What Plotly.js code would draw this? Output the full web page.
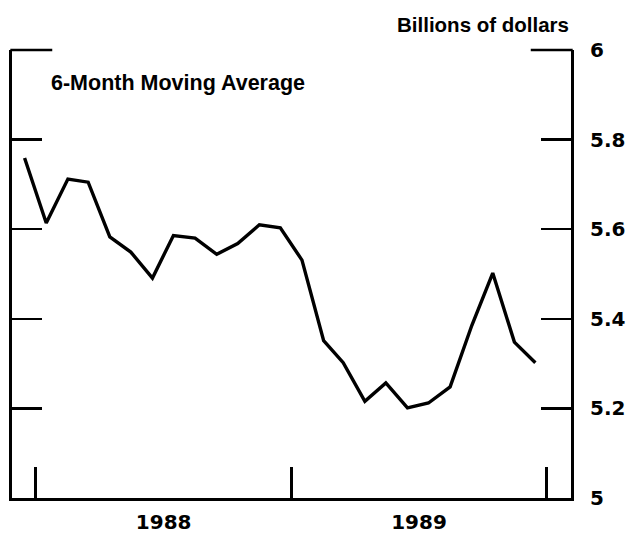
<!DOCTYPE html>
<html>
<head>
<meta charset="utf-8">
<script src="https://cdn.plot.ly/plotly-3.0.1.min.js"></script>
<style>html,body{margin:0;padding:0;background:#fff;}#chart{width:632px;height:537px;}</style>
</head>
<body>
<div id="chart"></div>
<script>
// Months (mid-month), Dec 1987 - Dec 1989
var months = ["1987-12-16","1988-01-16","1988-02-16","1988-03-16","1988-04-16","1988-05-16","1988-06-16",
  "1988-07-16","1988-08-16","1988-09-16","1988-10-16","1988-11-16","1988-12-16",
  "1989-01-16","1989-02-16","1989-03-16","1989-04-16","1989-05-16","1989-06-16",
  "1989-07-16","1989-08-16","1989-09-16","1989-10-16","1989-11-16","1989-12-16"];
// 6-month moving average, billions of dollars
var movingAvg = [5.759,5.614,5.712,5.705,5.583,5.549,5.491,5.586,5.580,5.544,5.568,5.610,5.603,
  5.531,5.351,5.302,5.216,5.257,5.201,5.212,5.248,5.385,5.502,5.348,5.302];
var yTicks = [5,5.2,5.4,5.6,5.8,6];
var yTickText = ["<b>5</b>","<b>5.2</b>","<b>5.4</b>","<b>5.6</b>","<b>5.8</b>","<b>6</b>"];

var numFont = {family:"DejaVu Sans, sans-serif", size:20, color:"#000"};
var txtFont = {family:"Liberation Sans, Arial, sans-serif", size:21.5, color:"#000"};

var trace = {
  x: months, y: movingAvg, type:"scatter", mode:"lines",
  line:{color:"#000", width:3.4}, hoverinfo:"skip"
};

var layout = {
  width:632, height:537,
  margin:{l:12, r:61, t:50, b:39},
  paper_bgcolor:"#fff", plot_bgcolor:"#fff",
  showlegend:false,
  xaxis:{
    type:"date",
    range:["1987-11-28","1990-02-05"],
    tick0:"1988-01-01", dtick:"M12",
    tickformat:"<b>%Y</b>", ticklabelmode:"period",
    ticks:"inside", ticklen:31, tickwidth:3, tickcolor:"#000",
    showline:true, linecolor:"#000", linewidth:3, mirror:false,
    showgrid:false, zeroline:false,
    ticklabelstandoff:4,
    tickfont:numFont
  },
  yaxis:{
    side:"right",
    range:[5,6],
    tickmode:"array", tickvals:yTicks, ticktext:yTickText,
    ticks:"inside", ticklen:30, tickwidth:2.5, tickcolor:"#000",
    showline:true, linecolor:"#000", linewidth:3, mirror:"ticks",
    showgrid:false, zeroline:false,
    ticklabelstandoff:12,
    tickfont:numFont
  },
  shapes:[
    {type:"line", xref:"paper", yref:"paper", x0:-0.003, x1:0.072, y0:1, y1:1, line:{color:"#000", width:2.6}},
    {type:"line", xref:"paper", yref:"paper", x0:0.928, x1:1.003, y0:1, y1:1, line:{color:"#000", width:2.6}}
  ],
  annotations:[
    {text:"<b>6-Month Moving Average</b>", xref:"paper", yref:"paper", x:0.066, y:0.926,
     xanchor:"left", yanchor:"middle", showarrow:false, font:txtFont},
    {text:"<b>Billions of dollars</b>", xref:"paper", yref:"paper", x:1.0, y:1.056,
     xanchor:"right", yanchor:"middle", showarrow:false,
     font:{family:"Liberation Sans, Arial, sans-serif", size:20.5, color:"#000"}}
  ]
};

Plotly.newPlot("chart", [trace], layout, {displayModeBar:false, staticPlot:true});
</script>
</body>
</html>
